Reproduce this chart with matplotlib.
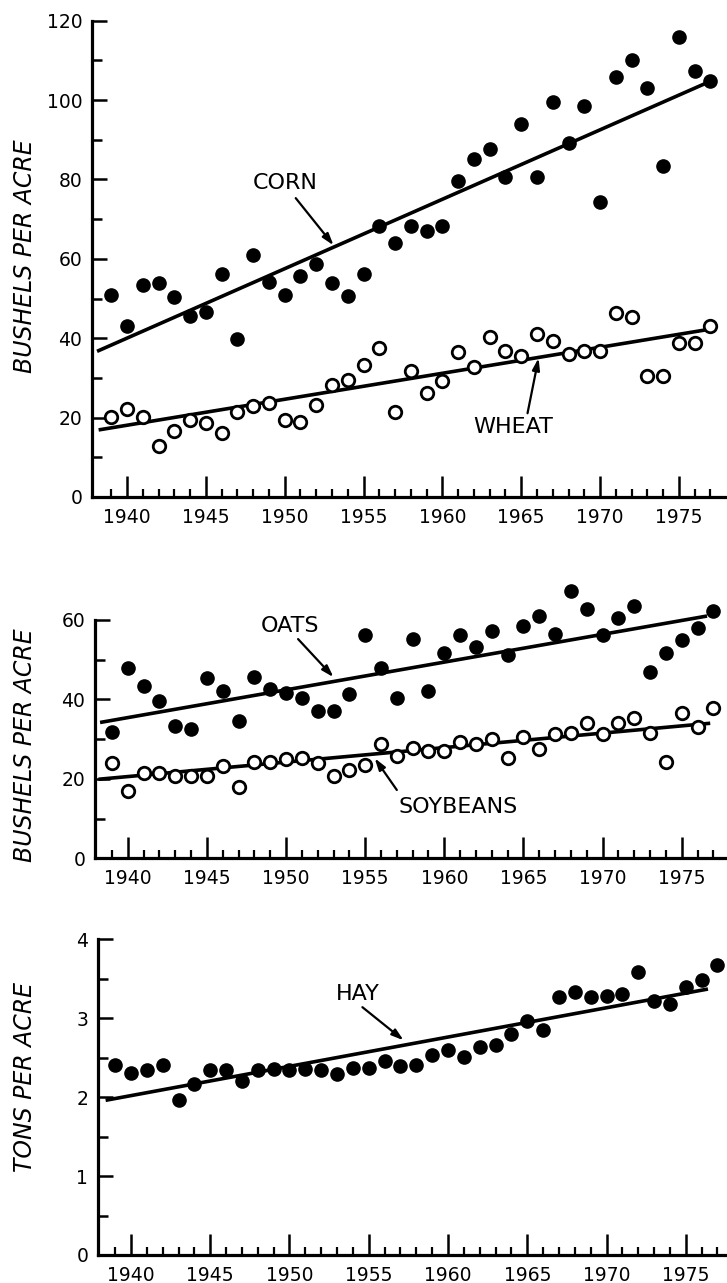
import matplotlib
matplotlib.use('Agg')
import matplotlib.pyplot as plt
import numpy as np

# yields, one value per year 1939-1977
years = list(range(1939, 1978))

corn = [50.8, 43.0, 53.5, 53.9, 50.4, 45.7, 46.7, 56.2, 39.7, 61.0,
        54.1, 51.0, 55.8, 58.6, 53.9, 50.6, 56.2, 68.4, 64.0, 68.4,
        66.9, 68.4, 79.5, 85.1, 87.7, 80.5, 94.1, 80.7, 99.4, 89.2,
        98.6, 74.3, 105.9, 110.2, 103.1, 83.3, 115.8, 107.4, 104.8]
wheat = [20.2, 22.1, 20.2, 12.8, 16.6, 19.5, 18.7, 16.1, 21.3, 23.0,
         23.7, 19.5, 18.9, 23.3, 28.2, 29.6, 33.2, 37.6, 21.3, 31.7,
         26.3, 29.1, 36.5, 32.8, 40.2, 36.7, 35.4, 41.0, 39.3, 36.0,
         36.9, 36.9, 46.4, 45.4, 30.5, 30.6, 38.7, 38.9, 43.2]
oats = [31.9, 48.0, 43.5, 39.6, 33.3, 32.6, 45.5, 42.0, 34.6, 45.7,
        42.6, 41.7, 40.3, 37.2, 37.2, 41.4, 56.1, 48.0, 40.3, 55.3,
        42.0, 51.6, 56.1, 53.3, 57.3, 51.2, 58.6, 61.1, 56.5, 67.3,
        62.7, 56.2, 60.4, 63.4, 47.0, 51.8, 55.0, 57.9, 62.3]
soybeans = [23.9, 17.0, 21.4, 21.4, 20.6, 20.7, 20.7, 23.3, 18.0, 24.3,
            24.2, 24.9, 25.3, 24.1, 20.7, 22.2, 23.5, 28.7, 25.7, 27.8,
            26.9, 27.1, 29.4, 28.8, 30.0, 25.2, 30.5, 27.5, 31.3, 31.5,
            34.0, 31.3, 34.0, 35.3, 31.6, 24.3, 36.7, 33.0, 37.8]
hay = [2.41, 2.31, 2.34, 2.41, 1.97, 2.17, 2.34, 2.34, 2.20, 2.34,
       2.36, 2.34, 2.36, 2.34, 2.29, 2.37, 2.37, 2.46, 2.39, 2.41,
       2.53, 2.60, 2.51, 2.64, 2.66, 2.80, 2.96, 2.85, 3.27, 3.33,
       3.27, 3.28, 3.31, 3.59, 3.22, 3.18, 3.39, 3.49, 3.68]

# trend line end points
corn_trend_x = [1938.1, 1976.8]
corn_trend_y = [36.7, 104.4]
wheat_trend_x = [1938.2, 1977.0]
wheat_trend_y = [16.9, 42.3]
oats_trend_x = [1938.25, 1976.6]
oats_trend_y = [34.2, 61.0]
soy_trend_x = [1938.15, 1976.8]
soy_trend_y = [19.9, 34.0]
hay_trend_x = [1938.4, 1976.4]
hay_trend_y = [1.96, 3.37]

W, H = 727, 1283
fig = plt.figure(figsize=(W / 100, H / 100), dpi=100)


def make_axes(left, top, bottom, xlim, ymax, ymajor, yminor):
    ax = fig.add_axes([left / W, 1 - bottom / H, (W - left) / W, (bottom - top) / H])
    ax.set_xlim(xlim)
    ax.set_ylim(0, ymax)
    for s in ['top', 'right']:
        ax.spines[s].set_visible(False)
    for s in ['left', 'bottom']:
        ax.spines[s].set_linewidth(2.3)
    ax.set_xticks(range(1940, 1976, 5))
    ax.set_xticks(years, minor=True)
    ax.set_yticks(np.arange(0, ymax + 1e-9, ymajor))
    ax.set_yticks(np.arange(0, ymax + 1e-9, yminor), minor=True)
    ax.set_xticklabels([str(y) for y in range(1940, 1976, 5)])
    ax.set_yticklabels(['%g' % v for v in np.arange(0, ymax + 1e-9, ymajor)])
    ax.tick_params(axis='x', which='major', direction='in', length=15, width=1.8,
                   pad=8, labelsize=13.5)
    ax.tick_params(axis='x', which='minor', direction='in', length=6, width=1.6)
    ax.tick_params(axis='y', which='major', direction='in', length=11, width=1.8,
                   pad=7, labelsize=13.5)
    ax.tick_params(axis='y', which='minor', direction='in', length=7, width=1.8)
    return ax


def arrow(ax, tail, head):
    ax.annotate('', xy=head, xytext=tail,
                arrowprops=dict(arrowstyle='-|>,head_length=0.7,head_width=0.22',
                                color='black', lw=1.6, shrinkA=0, shrinkB=0))


filled = dict(marker='o', ls='none', ms=9.5, color='black', clip_on=False, zorder=3)
hollow = dict(marker='o', ls='none', ms=9, mfc='white', mec='black', mew=2,
              clip_on=False, zorder=3)
trend = dict(color='black', lw=2.6, solid_capstyle='butt', zorder=2, clip_on=False)

# corn and wheat
ax1 = make_axes(92, 20.7, 497, (1937.78, 1978.05), 120, 20, 10)
ax1.plot(corn_trend_x, corn_trend_y, **trend)
ax1.plot(wheat_trend_x, wheat_trend_y, **trend)
ax1.plot(years, corn, **filled)
ax1.plot(years, wheat, **hollow)
ax1.text(1950.0, 79.2, 'CORN', ha='center', va='center', fontsize=16)
arrow(ax1, (1950.7, 75.3), (1953.1, 63.4))
ax1.text(1964.5, 17.6, 'WHEAT', ha='center', va='center', fontsize=16)
arrow(ax1, (1965.4, 21.1), (1966.1, 35.0))

# oats and soybeans
ax2 = make_axes(95, 620, 858.3, (1937.93, 1977.86), 60, 20, 10)
ax2.plot(oats_trend_x, oats_trend_y, **trend)
ax2.plot(soy_trend_x, soy_trend_y, **trend)
ax2.plot(years, oats, **filled)
ax2.plot(years, soybeans, **hollow)
ax2.text(1950.25, 58.6, 'OATS', ha='center', va='center', fontsize=16)
arrow(ax2, (1950.76, 55.2), (1953.0, 45.6))
ax2.text(1960.9, 12.8, 'SOYBEANS', ha='center', va='center', fontsize=16)
arrow(ax2, (1957.0, 17.2), (1955.6, 25.2))

# hay
ax3 = make_axes(98, 939.3, 1255, (1937.92, 1977.6), 4, 1, 0.5)
ax3.plot(hay_trend_x, hay_trend_y, **trend)
ax3.plot(years, hay, **filled)
ax3.text(1954.3, 3.31, 'HAY', ha='center', va='center', fontsize=16)
arrow(ax3, (1954.6, 3.14), (1957.2, 2.72))

# axis titles
for label, yc in [('BUSHELS PER ACRE', 256), ('BUSHELS PER ACRE', 745),
                  ('TONS PER ACRE', 1077)]:
    fig.text(25 / W, 1 - yc / H, label, rotation=90, ha='center', va='center',
             fontsize=17, style='italic')

fig.savefig('out.png', dpi=100)
